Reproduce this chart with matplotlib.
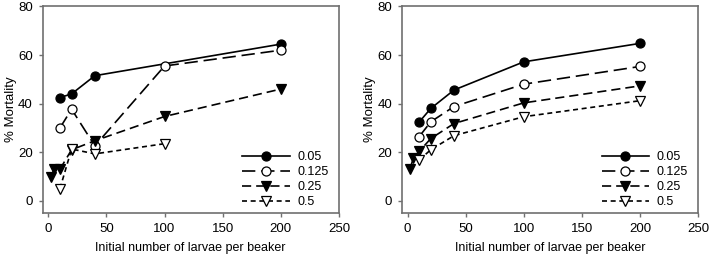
import matplotlib
matplotlib.use("Agg")
from matplotlib import pyplot as plt

plt.rcParams['font.family'] = ['Liberation Sans', 'DejaVu Sans']

labels = ["0.05", "0.125", "0.25", "0.5"]

# left panel (observed)
obs_x = [[10, 20, 40, 200],
         [10, 20, 40, 100, 200],
         [2, 5, 10, 20, 40, 100, 200],
         [10, 20, 40, 100]]
obs_y = [[42.5, 44, 51.5, 64.5],
         [30, 37.7, 22.6, 55.5, 62],
         [9.7, 13, 13, 21, 24.7, 34.7, 46],
         [5, 21.3, 19.3, 23.5]]

# right panel (fitted)
fit_x = [[10, 20, 40, 100, 200],
         [10, 20, 40, 100, 200],
         [2, 5, 10, 20, 40, 100, 200],
         [10, 20, 40, 100, 200]]
fit_y = [[32.4, 38, 45.6, 57.2, 64.8],
         [26.4, 32.5, 38.8, 48, 55.3],
         [13, 17.5, 20.3, 25.6, 31.8, 40.3, 47.3],
         [16.8, 21, 26.8, 34.6, 41.2]]

markers = ["o", "o", "v", "v"]
faces = ["black", "white", "black", "white"]
dashes = [None, (8, 3.5), (5.5, 3), (3, 2.2)]

fig = plt.figure(figsize=(7.09, 2.59), dpi=100)
ax1 = fig.add_axes([0.060, 0.178, 0.418, 0.797])
ax2 = fig.add_axes([0.5666, 0.178, 0.418, 0.797])

for ax, xs, ys in [(ax1, obs_x, obs_y), (ax2, fit_x, fit_y)]:
    for i in range(4):
        line, = ax.plot(xs[i], ys[i], color="black", lw=1.2,
                        marker=markers[i], markersize=6.5,
                        markerfacecolor=faces[i], markeredgecolor="black",
                        markeredgewidth=0.9, label=labels[i])
        if dashes[i] is not None:
            line.set_dashes(dashes[i])
    ax.set_xlim(-5, 250)
    ax.set_ylim(-5, 80)
    ax.set_xticks([0, 50, 100, 150, 200, 250])
    ax.set_yticks([0, 20, 40, 60, 80])
    for s in ax.spines.values():
        s.set_color("#707070")
        s.set_linewidth(1.2)
    ax.tick_params(direction="out", length=3, width=1, color="#707070",
                   labelsize=9.5, pad=4)
    ax.set_xlabel("Initial number of larvae per beaker", fontsize=9, labelpad=5)
    ax.set_ylabel("% Mortality", fontsize=9.5, labelpad=1)
    ax.legend(loc="lower right", bbox_to_anchor=(0.995, -0.02), frameon=False,
              fontsize=9, handlelength=3.8, handletextpad=0.6,
              labelspacing=0.25, borderaxespad=0.3)

plt.savefig("out.png", dpi=100)
